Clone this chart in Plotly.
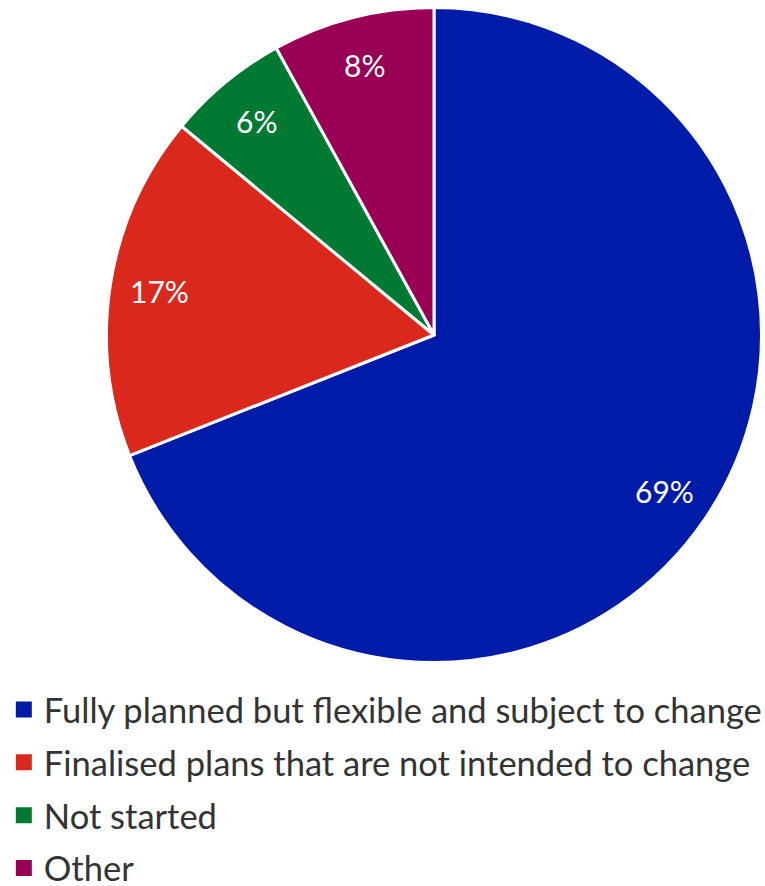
import math
import plotly.graph_objects as go

# Survey responses: state of plans
categories = [
    "Fully planned but flexible and subject to change",
    "Finalised plans that are not intended to change",
    "Not started",
    "Other",
]
shares = [69, 17, 6, 8]
colors = ["#001BA8", "#DA291C", "#007A33", "#990055"]

W, H = 765, 886
# Pie placement (pixels): centre and radius
cx, cy, R = 434, 335, 327.5
dom_x = [(cx - R) / W, (cx + R) / W]
dom_y = [1 - (cy + R) / H, 1 - (cy - R) / H]

fig = go.Figure()

fig.add_trace(go.Pie(
    labels=categories,
    values=shares,
    sort=False,
    direction="clockwise",
    rotation=0,
    marker=dict(colors=colors, line=dict(color="white", width=3)),
    textinfo="none",
    showlegend=False,
    hoverinfo="label+percent",
    domain=dict(x=dom_x, y=dom_y),
))

# Percentage labels placed near the rim at each slice's mid-angle
total = sum(shares)
cum = 0
label_r = 0.85 * R
for v in shares:
    mid = (cum + v / 2) / total * 2 * math.pi
    cum += v
    px = cx + label_r * math.sin(mid)
    py = cy - label_r * math.cos(mid)
    fig.add_annotation(
        x=px / W, y=1 - py / H, xref="paper", yref="paper",
        text=f"{v}%", showarrow=False,
        font=dict(family="Lato", size=30, color="white"),
        xanchor="center", yanchor="middle",
    )

# Legend entries with square swatches
for name, col in zip(categories, colors):
    fig.add_trace(go.Scatter(
        x=[None], y=[None], mode="markers",
        marker=dict(symbol="square", size=16, color=col),
        name=name, legendgroup=name, showlegend=True,
    ))

fig.update_layout(
    width=W, height=H,
    margin=dict(l=0, r=0, t=0, b=0, autoexpand=False),
    paper_bgcolor="white", plot_bgcolor="white",
    xaxis=dict(visible=False), yaxis=dict(visible=False),
    legend=dict(
        x=0.005, y=0.2319, xanchor="left", yanchor="top",
        font=dict(family="Lato", size=34.5, color="#333333"),
        tracegroupgap=5,
        itemwidth=30,
        bgcolor="rgba(0,0,0,0)",
    ),
)

fig.write_html("out.html")
